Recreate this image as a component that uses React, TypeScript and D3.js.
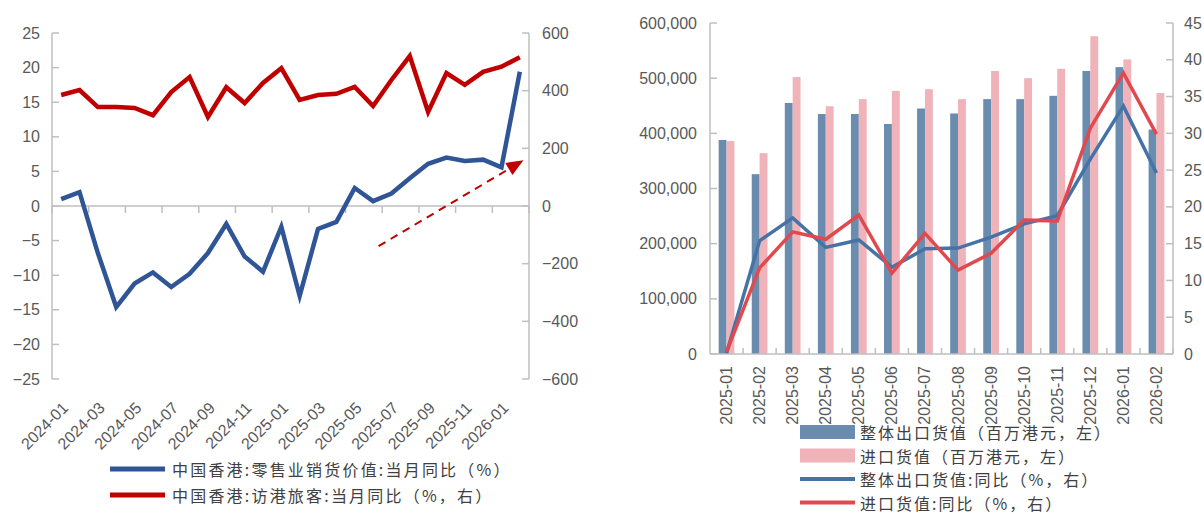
import React from "react";
import * as d3 from "d3";

// ---------- Left chart data ----------
const monthsL = [
  "2024-01","2024-02","2024-03","2024-04","2024-05","2024-06","2024-07","2024-08","2024-09","2024-10","2024-11","2024-12",
  "2025-01","2025-02","2025-03","2025-04","2025-05","2025-06","2025-07","2025-08","2025-09","2025-10","2025-11","2025-12",
  "2026-01","2026-02",
];
const retailYoY = [1.0, 2.0, -6.8, -14.6, -11.2, -9.6, -11.7, -9.8, -6.8, -2.6, -7.3, -9.5, -3.0, -13.0, -3.3, -2.3, 2.6, 0.7, 1.8, 4.0, 6.1, 7.0, 6.5, 6.7, 5.6, 19.4];
const visitorYoY = [385, 402, 343, 343, 340, 315, 395, 447, 309, 412, 357, 427, 478, 368, 385, 389, 413, 347, 437, 520, 326, 461, 420, 465, 483, 516];
const leftTicksL = [-25, -20, -15, -10, -5, 0, 5, 10, 15, 20, 25];
const rightTicksL = [-600, -400, -200, 0, 200, 400, 600];
const legendL = ["中国香港:零售业销货价值:当月同比（%）", "中国香港:访港旅客:当月同比（%，右）"];
// arrow annotation (category index, left-axis value)
const arrowFrom = { i: 17.3, v: -5.8 };
const arrowTo = { i: 25.2, v: 6.6 };

// ---------- Right chart data ----------
const monthsR = ["2025-01","2025-02","2025-03","2025-04","2025-05","2025-06","2025-07","2025-08","2025-09","2025-10","2025-11","2025-12","2026-01","2026-02"];
const exportVal = [388000, 326000, 455000, 435000, 435000, 417000, 445000, 436000, 462000, 462000, 468000, 513000, 520000, 407000];
const importVal = [386000, 364000, 502000, 449000, 462000, 477000, 480000, 462000, 513000, 500000, 517000, 576000, 534000, 473000];
const exportYoY = [0.1, 15.4, 18.5, 14.5, 15.5, 11.8, 14.3, 14.4, 15.9, 17.7, 18.8, 26.5, 33.7, 24.6];
const importYoY = [0.3, 11.7, 16.6, 15.6, 18.9, 11.0, 16.4, 11.4, 13.7, 18.2, 18.1, 30.7, 38.2, 29.9];
const leftTicksR = [0, 100000, 200000, 300000, 400000, 500000, 600000];
const rightTicksR = [0, 5, 10, 15, 20, 25, 30, 35, 40, 45];
const legendR = ["整体出口货值（百万港元，左）", "进口货值（百万港元，左）", "整体出口货值:同比（%，右）", "进口货值:同比（%，右）"];

const AXIS = "#bfbfbf";
const TXT = "#595959";
const NUMFONT = "'Liberation Sans', Arial, sans-serif";
const CJKFONT = "'Noto Sans CJK SC', sans-serif";

const C_BLUE_L = "#2f5597";
const C_RED_L = "#c00000";
const C_BAR_EXP = "#6a8cae";
const C_BAR_IMP = "#efb3b9";
const C_LINE_EXP = "#4673a6";
const C_LINE_IMP = "#e04a4f";

export default function App() {
  // ----- left chart scales -----
  const xL = d3.scaleBand().domain(monthsL).range([52, 529]);
  const xIdx = d3.scaleLinear().domain([0, monthsL.length]).range([52, 529]);
  const yL = d3.scaleLinear().domain([-25, 25]).range([379, 33]);
  const yLR = d3.scaleLinear().domain([-600, 600]).range([379, 33]);
  const cxL = (m: string) => (xL(m) as number) + xL.bandwidth() / 2;
  const fmt = d3.format("d");

  const retailLine = d3.line<number>().x((_, i) => cxL(monthsL[i])).y((d) => yL(d))(retailYoY) || "";
  const visitorLine = d3.line<number>().x((_, i) => cxL(monthsL[i])).y((d) => yLR(d))(visitorYoY) || "";

  const ax1 = xIdx(arrowFrom.i + 0.5), ay1 = yL(arrowFrom.v);
  const ax2 = xIdx(arrowTo.i + 0.5), ay2 = yL(arrowTo.v);
  const ang = Math.atan2(ay2 - ay1, ax2 - ax1);
  const headLen = 17, headW = 7;
  const bx = ax2 - headLen * Math.cos(ang), by = ay2 - headLen * Math.sin(ang);
  const px = -Math.sin(ang) * headW, py = Math.cos(ang) * headW;

  // ----- right chart scales -----
  const xR = d3.scaleBand().domain(monthsR).range([710, 1173]);
  const xSub = d3.scaleBand().domain(["exp", "imp"]).range([0, xR.bandwidth()]).paddingOuter(1.1);
  const yRL = d3.scaleLinear().domain([0, 600000]).range([354, 23]);
  const yRR = d3.scaleLinear().domain([0, 45]).range([354, 23]);
  const cxR = (m: string) => (xR(m) as number) + xR.bandwidth() / 2;
  const fmtC = d3.format(",");

  const expLine = d3.line<number>().x((_, i) => cxR(monthsR[i])).y((d) => yRR(d))(exportYoY) || "";
  const impLine = d3.line<number>().x((_, i) => cxR(monthsR[i])).y((d) => yRR(d))(importYoY) || "";

  const tickIdxL = d3.range(0, monthsL.length + 1, 2);

  return (
    <svg width={1204} height={514} style={{ position: "absolute", left: 0, top: 0, background: "#fff" }}>
      {/* ================= LEFT CHART ================= */}
      <g>
        <line x1={52} x2={52} y1={33} y2={379} stroke={AXIS} strokeWidth={1.5} />
        <line x1={529} x2={529} y1={33} y2={379} stroke={AXIS} strokeWidth={1.5} />
        <line x1={52} x2={529} y1={yL(0)} y2={yL(0)} stroke={AXIS} strokeWidth={1.5} />
        {leftTicksL.map((t) => (
          <g key={"lt" + t}>
            <line x1={52} x2={59} y1={yL(t)} y2={yL(t)} stroke={AXIS} strokeWidth={1.5} />
            <text x={40} y={yL(t)} textAnchor="end" dominantBaseline="central" fontSize={16} fill={TXT} fontFamily={NUMFONT}>
              {fmt(t)}
            </text>
          </g>
        ))}
        {rightTicksL.map((t) => (
          <g key={"rt" + t}>
            <line x1={522} x2={529} y1={yLR(t)} y2={yLR(t)} stroke={AXIS} strokeWidth={1.5} />
            <text x={542} y={yLR(t)} textAnchor="start" dominantBaseline="central" fontSize={16} fill={TXT} fontFamily={NUMFONT}>
              {fmt(t)}
            </text>
          </g>
        ))}
        {tickIdxL.map((i) => (
          <line key={"xt" + i} x1={xIdx(i)} x2={xIdx(i)} y1={yL(0)} y2={yL(0) + 7} stroke={AXIS} strokeWidth={1.5} />
        ))}
        {monthsL.map((m, i) =>
          i % 2 === 0 ? (
            <text
              key={"xl" + m}
              transform={`translate(${cxL(m) + 8},${409}) rotate(-45)`}
              textAnchor="end"
              fontSize={16}
              fill={TXT}
              fontFamily={NUMFONT}
            >
              {m}
            </text>
          ) : null
        )}
        <path d={visitorLine} fill="none" stroke={C_RED_L} strokeWidth={4.5} strokeLinejoin="miter" />
        <path d={retailLine} fill="none" stroke={C_BLUE_L} strokeWidth={4.5} strokeLinejoin="miter" />
        <line x1={ax1} y1={ay1} x2={bx} y2={by} stroke={C_RED_L} strokeWidth={2} strokeDasharray="8,6" />
        <polygon points={`${ax2},${ay2} ${bx + px},${by + py} ${bx - px},${by - py}`} fill={C_RED_L} />
        {legendL.map((t, i) => (
          <g key={"lg" + i}>
            <line x1={110} x2={165} y1={469 + i * 26} y2={469 + i * 26} stroke={i === 0 ? C_BLUE_L : C_RED_L} strokeWidth={5} />
            <text x={172} y={469 + i * 26} dominantBaseline="central" fontSize={16} letterSpacing={2.2} fill="#404040" fontFamily={CJKFONT}>
              {t}
            </text>
          </g>
        ))}
      </g>

      {/* ================= RIGHT CHART ================= */}
      <g>
        <line x1={710} x2={710} y1={23} y2={354} stroke={AXIS} strokeWidth={1.5} />
        <line x1={1173} x2={1173} y1={23} y2={354} stroke={AXIS} strokeWidth={1.5} />
        {leftTicksR.map((t) => (
          <g key={"rlt" + t}>
            <line x1={710} x2={717} y1={yRL(t)} y2={yRL(t)} stroke={AXIS} strokeWidth={1.5} />
            <text x={697} y={yRL(t)} textAnchor="end" dominantBaseline="central" fontSize={16} fill={TXT} fontFamily={NUMFONT}>
              {fmtC(t)}
            </text>
          </g>
        ))}
        {rightTicksR.map((t) => (
          <g key={"rrt" + t}>
            <line x1={1166} x2={1173} y1={yRR(t)} y2={yRR(t)} stroke={AXIS} strokeWidth={1.5} />
            <text x={1184} y={yRR(t)} textAnchor="start" dominantBaseline="central" fontSize={16} fill={TXT} fontFamily={NUMFONT}>
              {t}
            </text>
          </g>
        ))}
        {monthsR.map((m, i) => (
          <g key={"bar" + m}>
            <rect
              x={(xR(m) as number) + (xSub("exp") as number)}
              y={yRL(exportVal[i])}
              width={xSub.bandwidth()}
              height={yRL(0) - yRL(exportVal[i])}
              fill={C_BAR_EXP}
            />
            <rect
              x={(xR(m) as number) + (xSub("imp") as number)}
              y={yRL(importVal[i])}
              width={xSub.bandwidth()}
              height={yRL(0) - yRL(importVal[i])}
              fill={C_BAR_IMP}
            />
          </g>
        ))}
        <line x1={710} x2={1173} y1={354} y2={354} stroke={AXIS} strokeWidth={1.5} />
        {monthsR.map((m) => (
          <line key={"rxt" + m} x1={(xR(m) as number) + xR.bandwidth()} x2={(xR(m) as number) + xR.bandwidth()} y1={354} y2={348} stroke={AXIS} strokeWidth={1.5} />
        ))}
        {monthsR.map((m) => (
          <text
            key={"rxl" + m}
            transform={`translate(${cxR(m)},${366}) rotate(-90)`}
            textAnchor="end"
            dominantBaseline="central"
            fontSize={16}
            fill={TXT}
            fontFamily={NUMFONT}
          >
            {m}
          </text>
        ))}
        <path d={expLine} fill="none" stroke={C_LINE_EXP} strokeWidth={3.5} />
        <path d={impLine} fill="none" stroke={C_LINE_IMP} strokeWidth={3.5} />
        {legendR.map((t, i) => {
          const y = 432 + i * 23.5;
          return (
            <g key={"rlg" + i}>
              {i < 2 ? (
                <rect x={800} y={y - 7} width={55} height={14} fill={i === 0 ? C_BAR_EXP : C_BAR_IMP} />
              ) : (
                <line x1={800} x2={855} y1={y} y2={y} stroke={i === 2 ? C_LINE_EXP : C_LINE_IMP} strokeWidth={4} />
              )}
              <text x={860} y={y} dominantBaseline="central" fontSize={16} letterSpacing={2} fill="#404040" fontFamily={CJKFONT}>
                {t}
              </text>
            </g>
          );
        })}
      </g>
    </svg>
  );
}
